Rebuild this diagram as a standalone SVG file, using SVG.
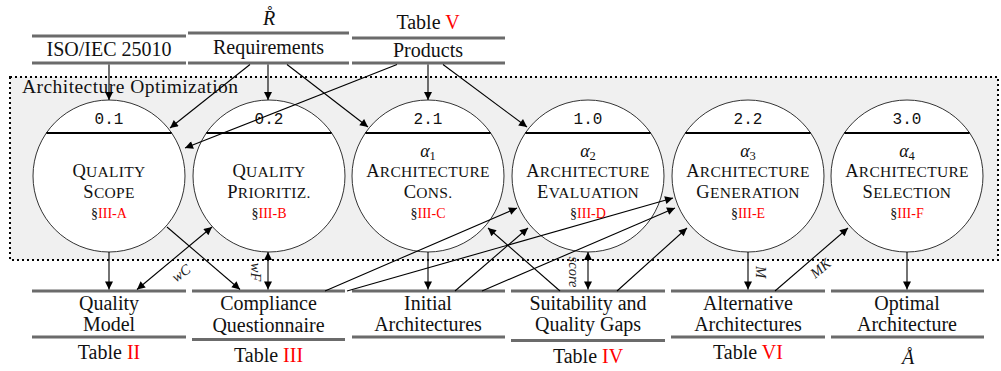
<svg xmlns="http://www.w3.org/2000/svg" width="1001" height="371" viewBox="0 0 1001 371">
<defs>
<marker id="ah" viewBox="0 0 10 10" markerUnits="userSpaceOnUse" markerWidth="11" markerHeight="8" refX="10" refY="5" orient="auto-start-reverse"><path d="M0,0 L10,5 L0,10 z" fill="#000"/></marker>
<style>
.st{stroke:#6b6b6b;stroke-width:3;fill:none}
.t{font-family:"Liberation Serif",serif;font-size:20px;text-anchor:middle;fill:#111}
.red{fill:#f00}
.num{font-family:"Liberation Mono",monospace;font-size:16px;text-anchor:middle;fill:#111}
.sc{font-family:"Liberation Serif",serif;font-size:15.5px;letter-spacing:0.3px;text-anchor:middle;fill:#111}
.b{font-size:18.5px}
.al{font-family:"Liberation Serif",serif;font-size:18px;font-style:italic;text-anchor:middle;fill:#111}
.sub{font-size:12.5px;font-style:normal}
.sec{font-family:"Liberation Serif",serif;font-size:14px;text-anchor:middle;fill:#111}
.nd circle{fill:#fff;stroke:#333;stroke-width:1}
.nd line{stroke:#000;stroke-width:2.2}
.c{stroke:#000;stroke-width:1.1;fill:none;marker-end:url(#ah)}
.c2{stroke:#000;stroke-width:1.1;fill:none;marker-end:url(#ah);marker-start:url(#ah)}
.lb{font-family:"Liberation Serif",serif;font-size:14.5px;font-style:italic;text-anchor:middle;fill:#222}
</style>
</defs>
<rect width="1001" height="371" fill="#fff"/>
<g id="boundary">
<rect x="10" y="77" width="988" height="183" fill="#f0f0f0" stroke="#000" stroke-width="2" stroke-dasharray="2 3"/>
<text x="22" y="93" font-family="Liberation Serif, serif" font-size="19.5" fill="#111" textLength="216">Architecture Optimization</text>
</g>
<g id="store-iso">
<line class="st" x1="32" y1="36" x2="186" y2="36"/><line class="st" x1="32" y1="63" x2="186" y2="63"/>
<text class="t" x="109" y="56">ISO/IEC 25010</text>
</g>
<g id="store-req">
<line class="st" x1="188" y1="33" x2="349" y2="33"/><line class="st" x1="188" y1="63" x2="349" y2="63"/>
<text class="t" x="268.5" y="54">Requirements</text>
<text class="t" x="269" y="25" font-style="italic">R&#x30A;</text>
</g>
<g id="store-prod">
<line class="st" x1="352" y1="38" x2="505" y2="38"/><line class="st" x1="352" y1="63" x2="505" y2="63"/>
<text class="t" x="428" y="57">Products</text>
<text class="t" x="428" y="29">Table <tspan class="red">V</tspan></text>
</g>
<g id="n01" class="nd">
<circle cx="109" cy="176" r="76"/><line x1="46.3" y1="133" x2="171.7" y2="133"/>
<text class="num" x="109" y="124">0.1</text>
<text class="sc" x="109" y="177"><tspan class="b">Q</tspan>UALITY</text>
<text class="sc" x="109" y="198"><tspan class="b">S</tspan>COPE</text>
<text class="sec" x="109" y="218">§<tspan class="red">III-A</tspan></text>
</g>
<g id="n02" class="nd">
<circle cx="269" cy="176" r="76"/><line x1="206.3" y1="133" x2="331.7" y2="133"/>
<text class="num" x="269" y="124">0.2</text>
<text class="sc" x="269" y="177"><tspan class="b">Q</tspan>UALITY</text>
<text class="sc" x="269" y="198"><tspan class="b">P</tspan>RIORITIZ.</text>
<text class="sec" x="269" y="218">§<tspan class="red">III-B</tspan></text>
</g>
<g id="n21" class="nd">
<circle cx="428" cy="176" r="76"/><line x1="365.3" y1="133" x2="490.7" y2="133"/>
<text class="num" x="428" y="124">2.1</text>
<text class="al" x="428" y="157">α<tspan class="sub" dy="3">1</tspan></text>
<text class="sc" x="428" y="177"><tspan class="b">A</tspan>RCHITECTURE</text>
<text class="sc" x="428" y="198"><tspan class="b">C</tspan>ONS.</text>
<text class="sec" x="428" y="218">§<tspan class="red">III-C</tspan></text>
</g>
<g id="n10" class="nd">
<circle cx="588" cy="176" r="76"/><line x1="525.3" y1="133" x2="650.7" y2="133"/>
<text class="num" x="588" y="124">1.0</text>
<text class="al" x="588" y="157">α<tspan class="sub" dy="3">2</tspan></text>
<text class="sc" x="588" y="177"><tspan class="b">A</tspan>RCHITECTURE</text>
<text class="sc" x="588" y="198"><tspan class="b">E</tspan>VALUATION</text>
<text class="sec" x="588" y="218">§<tspan class="red">III-D</tspan></text>
</g>
<g id="n22" class="nd">
<circle cx="748" cy="176" r="76"/><line x1="685.3" y1="133" x2="810.7" y2="133"/>
<text class="num" x="748" y="124">2.2</text>
<text class="al" x="748" y="157">α<tspan class="sub" dy="3">3</tspan></text>
<text class="sc" x="748" y="177"><tspan class="b">A</tspan>RCHITECTURE</text>
<text class="sc" x="748" y="198"><tspan class="b">G</tspan>ENERATION</text>
<text class="sec" x="748" y="218">§<tspan class="red">III-E</tspan></text>
</g>
<g id="n30" class="nd">
<circle cx="907" cy="176" r="76"/><line x1="844.3" y1="133" x2="969.7" y2="133"/>
<text class="num" x="907" y="124">3.0</text>
<text class="al" x="907" y="157">α<tspan class="sub" dy="3">4</tspan></text>
<text class="sc" x="907" y="177"><tspan class="b">A</tspan>RCHITECTURE</text>
<text class="sc" x="907" y="198"><tspan class="b">S</tspan>ELECTION</text>
<text class="sec" x="907" y="218">§<tspan class="red">III-F</tspan></text>
</g>
<g id="store-qm">
<line class="st" x1="32" y1="291" x2="186" y2="291"/><line class="st" x1="32" y1="337" x2="186" y2="337"/>
<text class="t" x="109" y="310">Quality</text><text class="t" x="109" y="331">Model</text>
<text class="t" x="109" y="359">Table <tspan class="red">II</tspan></text>
</g>
<g id="store-cq">
<line class="st" x1="192" y1="291" x2="345" y2="291"/><line class="st" x1="192" y1="339.5" x2="345" y2="339.5"/>
<text class="t" x="268.5" y="310">Compliance</text><text class="t" x="268.5" y="332">Questionnaire</text>
<text class="t" x="268.5" y="362">Table <tspan class="red">III</tspan></text>
</g>
<g id="store-ia">
<line class="st" x1="352" y1="291" x2="505" y2="291"/><line class="st" x1="352" y1="337" x2="505" y2="337"/>
<text class="t" x="428" y="310">Initial</text><text class="t" x="428" y="331">Architectures</text>
</g>
<g id="store-sq">
<line class="st" x1="511" y1="291" x2="665" y2="291"/><line class="st" x1="511" y1="340.5" x2="665" y2="340.5"/>
<text class="t" x="588" y="310">Suitability and</text><text class="t" x="588" y="331">Quality Gaps</text>
<text class="t" x="588" y="363">Table <tspan class="red">IV</tspan></text>
</g>
<g id="store-aa">
<line class="st" x1="671" y1="291" x2="825" y2="291"/><line class="st" x1="671" y1="337" x2="825" y2="337"/>
<text class="t" x="748" y="310">Alternative</text><text class="t" x="748" y="331">Architectures</text>
<text class="t" x="748" y="359">Table <tspan class="red">VI</tspan></text>
</g>
<g id="store-oa">
<line class="st" x1="831" y1="291" x2="984" y2="291"/><line class="st" x1="831" y1="337" x2="984" y2="337"/>
<text class="t" x="907" y="310">Optimal</text><text class="t" x="907" y="331">Architecture</text>
<text class="t" x="908" y="364" font-style="italic">A&#x30A;</text>
</g>
<g id="connectors">
<line class="c" x1="109" y1="64.5" x2="109" y2="100"/>
<line class="c" x1="250" y1="64.5" x2="170" y2="128"/>
<line class="c" x1="268" y1="64.5" x2="268" y2="100"/>
<line class="c" x1="287" y1="64.5" x2="368" y2="127"/>
<line class="c" x1="397" y1="64.5" x2="185" y2="148"/>
<line class="c" x1="428" y1="64.5" x2="428" y2="100"/>
<line class="c" x1="443" y1="64.5" x2="527" y2="127"/>
<line class="c" x1="109" y1="252" x2="109" y2="289.5"/>
<line class="c2" x1="137" y1="289.5" x2="212" y2="227"/>
<line class="c" x1="167" y1="227" x2="240" y2="289.5"/>
<line class="c2" x1="268" y1="252" x2="268" y2="289.5"/>
<line class="c" x1="428" y1="252" x2="428" y2="289.5"/>
<line class="c" x1="325" y1="291" x2="517" y2="208"/>
<line class="c" x1="347" y1="291" x2="673" y2="198"/>
<line class="c" x1="455" y1="291" x2="528" y2="228"/>
<line class="c" x1="482" y1="291" x2="675" y2="208"/>
<line class="c" x1="560" y1="291" x2="488" y2="228"/>
<line class="c2" x1="588" y1="252" x2="588" y2="289.5"/>
<line class="c" x1="617" y1="291" x2="687" y2="228"/>
<line class="c" x1="748" y1="252" x2="748" y2="289.5"/>
<line class="c" x1="775" y1="291" x2="848" y2="228"/>
<line class="c" x1="907" y1="252" x2="907" y2="289.5"/>
<text class="lb" x="181" y="278" transform="rotate(-35 181 273)">wC</text>
<text class="lb" x="256" y="277" transform="rotate(90 256 272)">wF</text>
<text class="lb" x="573" y="276" font-size="12.5" fill="#444" transform="rotate(90 573 272)">score</text>
<text class="lb" x="761" y="277" transform="rotate(90 761 272)">M</text>
<text class="lb" x="821" y="273" font-size="12" transform="rotate(-40 821 269)">MK</text>
</g>
</svg>
